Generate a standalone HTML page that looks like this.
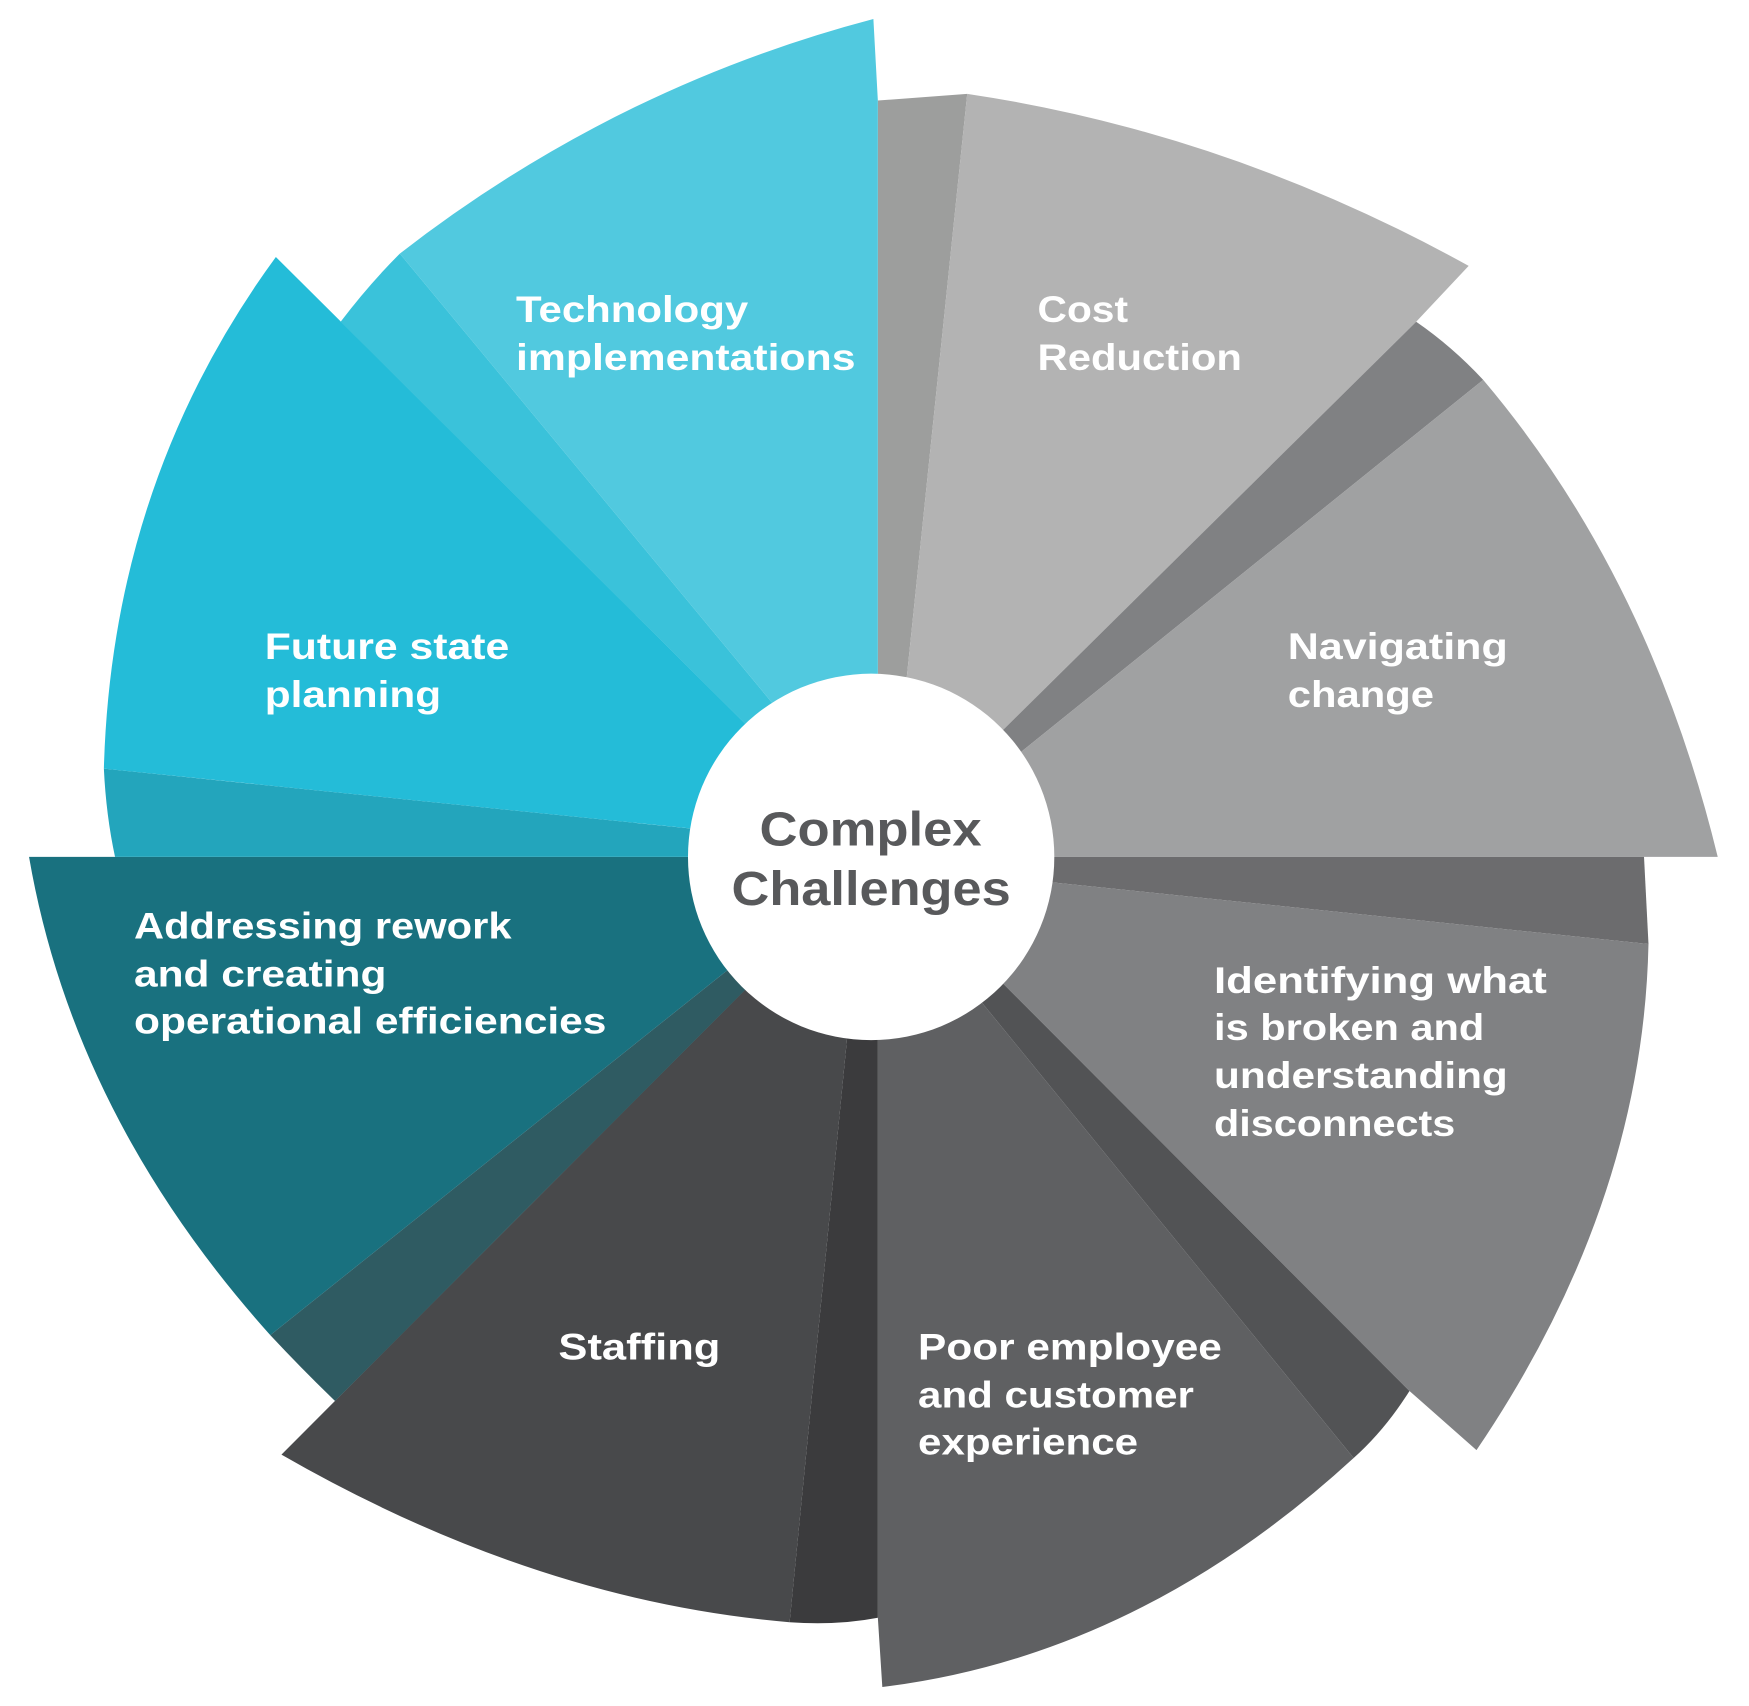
<!DOCTYPE html>
<html><head><meta charset="utf-8"><style>
html,body{margin:0;padding:0;background:#fff;}
svg{display:block;}
text{font-family:"Liberation Sans",sans-serif;font-weight:bold;}
</style></head><body>
<svg width="1749" height="1706" viewBox="0 0 1566 1527" preserveAspectRatio="none" xmlns="http://www.w3.org/2000/svg">
<rect width="1566" height="1527" fill="#fff"/>
<!-- A -->
<path d="M786,90 L866,84 L812,605 L795,767 L786,767 Z" fill="#9d9e9d"/>
<!-- B -->
<path d="M866,84 Q1100,119 1315,238 L1268,288 L780,770 L795,767 L812,605 Z" fill="#b3b3b3"/>
<!-- C -->
<path d="M1268,288 Q1300,310 1328,340 L780,781 L780,770 Z" fill="#808183"/>
<!-- D -->
<path d="M1328,340 Q1477,516 1538,767 L780,767 L780,781 Z" fill="#a0a1a2"/>
<!-- E -->
<path d="M780,767 L1472,767 L1476,845 L780,773 Z" fill="#6c6c6e"/>
<!-- F -->
<path d="M780,773 L1476,845 Q1471,1078 1322,1298 L1262,1245 L780,762 Z" fill="#808183"/>
<!-- G -->
<path d="M780,762 L1262,1245 Q1240,1280 1212,1305 L780,776 Z" fill="#525355"/>
<!-- H -->
<path d="M786,767 L780,776 L1212,1305 Q1019,1482 790,1510 L786,1448 Z" fill="#5f6062"/>
<!-- I -->
<path d="M786,767 L786,1448 Q750,1455 707,1452 L758,934 L774,767 Z" fill="#3b3b3d"/>
<!-- J -->
<path d="M774,767 L758,934 L707,1452 Q480,1433 252,1302 L660,893 L780,773 Z" fill="#48494b"/>
<!-- K -->
<path d="M780,773 L300,1254 Q270,1225 242,1195 L648,871 L780,766 Z" fill="#2f5b62"/>
<!-- L -->
<path d="M780,766 L648,871 L242,1195 Q66,999 26,767 L780,767 Z" fill="#19717f"/>
<!-- M -->
<path d="M780,767 L103,767 Q95,730 93,688 L603,740 L780,758 Z" fill="#23a5bc"/>
<!-- N -->
<path d="M780,758 L93,688 Q100,431 247,230 L780,760 Z" fill="#24bcd8"/>
<!-- O -->
<path d="M780,760 L305,288 Q330,255 358,227 L780,736 Z" fill="#3ac2da"/>
<!-- P -->
<path d="M780,736 L358,227 Q550,78 782,17 L786,90 L786,767 L780,767 Z" fill="#51c9df"/>
<!-- center -->
<circle cx="780" cy="767" r="164" fill="#fff"/>
<text fill="#58595b" font-size="43"><tspan x="680" y="757" textLength="199" lengthAdjust="spacingAndGlyphs">Complex</tspan><tspan x="655" y="810" textLength="250" lengthAdjust="spacingAndGlyphs">Challenges</tspan></text>
<g fill="#fff" font-size="33">
<text x="462" y="288" textLength="208" lengthAdjust="spacingAndGlyphs">Technology</text>
<text x="462" y="331" textLength="304" lengthAdjust="spacingAndGlyphs">implementations</text>
<text x="929" y="288" textLength="81" lengthAdjust="spacingAndGlyphs">Cost</text>
<text x="929" y="331" textLength="183" lengthAdjust="spacingAndGlyphs">Reduction</text>
<text x="237" y="590" textLength="219" lengthAdjust="spacingAndGlyphs">Future state</text>
<text x="237" y="633" textLength="158" lengthAdjust="spacingAndGlyphs">planning</text>
<text x="1153" y="590" textLength="197" lengthAdjust="spacingAndGlyphs">Navigating</text>
<text x="1153" y="633" textLength="131" lengthAdjust="spacingAndGlyphs">change</text>
<text x="120" y="840" textLength="338" lengthAdjust="spacingAndGlyphs">Addressing rework</text>
<text x="120" y="883" textLength="226" lengthAdjust="spacingAndGlyphs">and creating</text>
<text x="120" y="925" textLength="423" lengthAdjust="spacingAndGlyphs">operational efficiencies</text>
<text x="1087" y="889" textLength="298" lengthAdjust="spacingAndGlyphs">Identifying what</text>
<text x="1087" y="931" textLength="242" lengthAdjust="spacingAndGlyphs">is broken and</text>
<text x="1087" y="974" textLength="263" lengthAdjust="spacingAndGlyphs">understanding</text>
<text x="1087" y="1017" textLength="216" lengthAdjust="spacingAndGlyphs">disconnects</text>
<text x="500" y="1217" textLength="145" lengthAdjust="spacingAndGlyphs">Staffing</text>
<text x="822" y="1217" textLength="272" lengthAdjust="spacingAndGlyphs">Poor employee</text>
<text x="822" y="1260" textLength="247" lengthAdjust="spacingAndGlyphs">and customer</text>
<text x="822" y="1302" textLength="197" lengthAdjust="spacingAndGlyphs">experience</text>
</g>
</svg>
</body></html>
